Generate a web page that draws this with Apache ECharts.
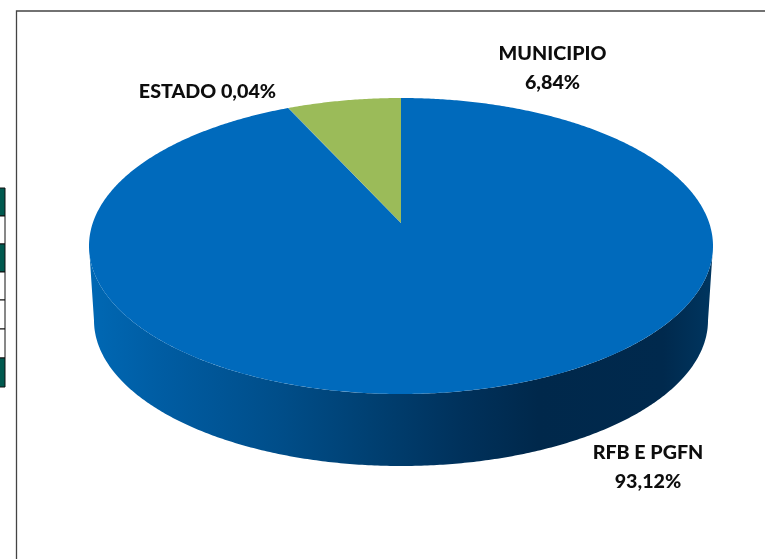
<!DOCTYPE html>
<html>
<head>
<meta charset="utf-8">
<style>html,body{margin:0;padding:0;background:#fff}#c{width:765px;height:559px}</style>
<script src="https://cdn.jsdelivr.net/npm/echarts@6/dist/echarts.min.js"></script>
</head>
<body>
<div id="c"></div>
<script>
const categories = ['RFB E PGFN', 'ESTADO', 'MUNICIPIO'];
const shares = [93.12, 0.04, 6.84];
const shareLabels = ['93,12%', '0,04%', '6,84%'];

const sliceColors = ['#006ABC', '#006ABC', '#9BBB59'];
const labelLayout = [
  { x: 648, y: 453, sep: true },
  { x: 207.5, y: 91.5, sep: false },
  { x: 552.5, y: 53.5, sep: true }
];

// Perspective projection of the pie disc onto the page
const CX = 401, CY = 246, RY = 148, RX = 312, TILT = 0.1554, APEX = 23;
const DISC = RX * Math.sqrt(1 - TILT * TILT);
const BASE_SCALE = 307 / 312, BASE_CY = 320.4;
const WALL_FROM = 90 + Math.asin(TILT) * 180 / Math.PI;
const WALL_TO = 360 - WALL_FROM;

function rim(deg) {
  const t = deg * Math.PI / 180, u = Math.sin(t), v = Math.cos(t), w = 1 + TILT * v;
  return [DISC * u / w, (RY * v + APEX) / w];
}
const topPt = d => { const p = rim(d); return [CX + p[0], CY - p[1]]; };
const basePt = d => { const p = rim(d); return [CX + BASE_SCALE * p[0], BASE_CY - BASE_SCALE * p[1]]; };
function sweep(fn, a, b) {
  const pts = [], n = Math.max(2, Math.ceil(Math.abs(b - a) * 2));
  for (let i = 0; i <= n; i++) pts.push(fn(a + (b - a) * i / n));
  return pts;
}
const total = shares.reduce((s, v) => s + v, 0);
const wallFill = new echarts.graphic.LinearGradient(89, 0, 713, 0, [
  { offset: 0, color: '#0068B4' },
  { offset: 0.12, color: '#005CA2' },
  { offset: 0.3, color: '#004E8A' },
  { offset: 0.45, color: '#004072' },
  { offset: 0.6, color: '#00315B' },
  { offset: 0.72, color: '#00284B' },
  { offset: 0.92, color: '#00294D' },
  { offset: 1, color: '#003660' }
], true);

function renderSlice(params, api) {
  const i = params.dataIndex;
  let before = 0;
  for (let k = 0; k < i; k++) before += shares[k];
  const start = before / total * 360, end = (before + api.value(0)) / total * 360;
  const children = [];
  const a = Math.max(start, WALL_FROM), b = Math.min(end, WALL_TO);
  if (b > a) {
    children.push({
      type: 'polygon',
      shape: { points: sweep(topPt, a, b).concat(sweep(basePt, b, a)) },
      style: { fill: wallFill }
    });
  }
  children.push({
    type: 'polygon',
    shape: { points: [[CX, CY - APEX]].concat(sweep(topPt, start, end)) },
    style: { fill: sliceColors[i] }
  });
  return { type: 'group', children };
}

const textStyle = { fontFamily: 'Lato', fontWeight: 900, fontSize: 19.7, fill: '#0d0d0d', textAlign: 'center', textVerticalAlign: 'middle' };
const labels = [];
categories.forEach((name, i) => {
  const l = labelLayout[i];
  if (l.sep) {
    labels.push({ type: 'text', x: l.x, y: l.y, style: Object.assign({ text: name }, textStyle) });
    labels.push({ type: 'text', x: l.x, y: l.y + 29, style: Object.assign({ text: shareLabels[i] }, textStyle) });
  } else {
    labels.push({ type: 'text', x: l.x, y: l.y, style: Object.assign({ text: name + ' ' + shareLabels[i] }, textStyle) });
  }
});

// Cropped neighbouring table at the left edge and the picture frame
const tableBands = [[188, 216, '#00594F'], [216, 244, '#ffffff'], [244, 272, '#00594F'], [272, 300, '#ffffff'], [300, 329, '#ffffff'], [329, 358, '#ffffff'], [358, 387, '#00594F']];
const decor = tableBands.map(b => ({
  type: 'rect', shape: { x: -2, y: b[0], width: 7, height: b[1] - b[0] },
  style: { fill: b[2], stroke: '#111', lineWidth: 1 }
})).concat([
  { type: 'polyline', shape: { points: [[16.5, 559], [16.5, 11], [765, 11]] }, style: { fill: null, stroke: '#444', lineWidth: 1.3 } }
]);

const chart = echarts.init(document.getElementById('c'), null, { renderer: 'canvas' });
chart.setOption({
  animation: false,
  backgroundColor: '#fff',
  graphic: { elements: decor.concat(labels) },
  series: [{
    type: 'custom',
    coordinateSystem: 'none',
    silent: true,
    renderItem: renderSlice,
    data: shares.map((v, i) => ({ name: categories[i], value: [v] }))
  }]
});
</script>
</body>
</html>
